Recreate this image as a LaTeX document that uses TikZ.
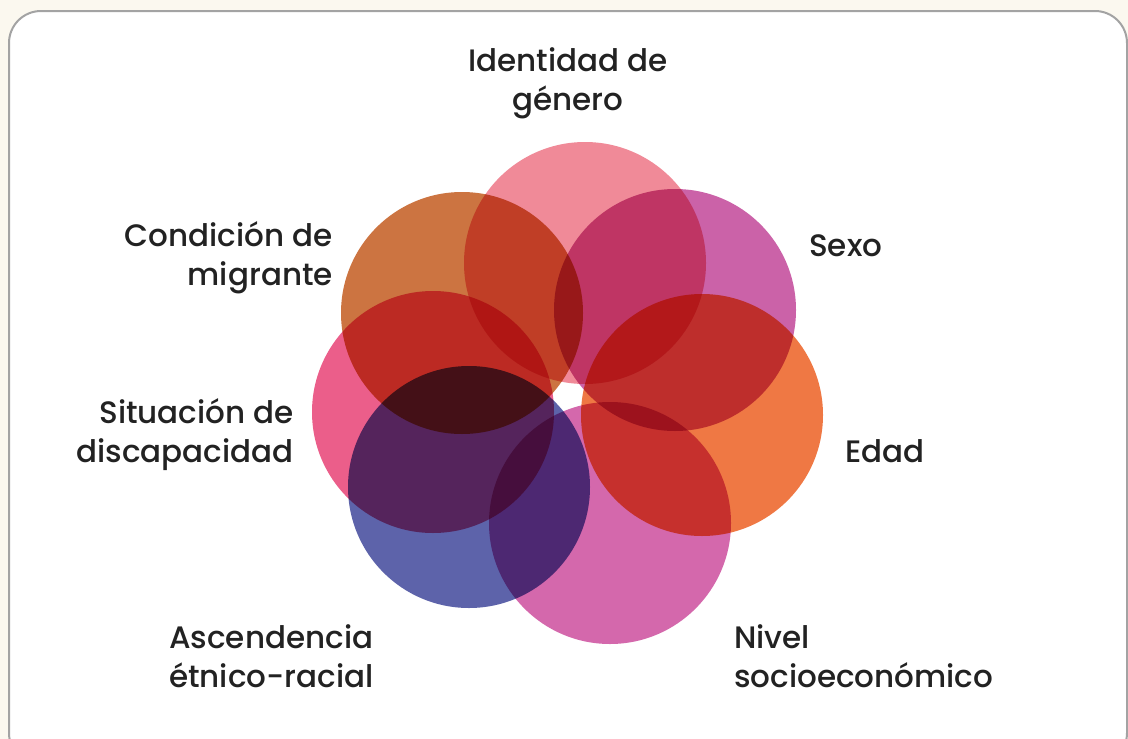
\documentclass[tikz,border=0pt]{standalone}
\usepackage{fontspec}
\setmainfont{Poppins}[UprightFont={* Medium}]
\definecolor{bgcol}{HTML}{FBF8EF}
\definecolor{framecol}{HTML}{A3A3A3}
\definecolor{inkcol}{HTML}{222222}
\definecolor{identcol}{HTML}{F08A98}
\definecolor{sexocol}{HTML}{CB62A8}
\definecolor{edadcol}{HTML}{EF7844}
\definecolor{nivelcol}{HTML}{D468AC}
\definecolor{asccol}{HTML}{5D63AA}
\definecolor{sitcol}{HTML}{EB5E8A}
\definecolor{condcol}{HTML}{CC7441}
\begin{document}
\begin{tikzpicture}[x=1pt,y=-1pt,
    petal/.style={fill=#1,blend mode=multiply},
    lbl/.style={font=\fontsize{31}{38.5}\selectfont,text=inkcol,inner sep=0pt}]
  \useasboundingbox (0,0) rectangle (1128,739);
  \fill[bgcol] (0,0) rectangle (1128,739);
  \draw[line width=2pt,draw=framecol,fill=white,rounded corners=32pt]
    (9,11) rectangle (1127,765);
  % the seven circles
  \fill[petal=identcol] (585,263) circle (121pt);
  \fill[petal=sexocol] (675,310) circle (121pt);
  \fill[petal=edadcol] (702,415) circle (121pt);
  \fill[petal=nivelcol] (610,523) circle (121pt);
  \fill[petal=asccol] (469,487) circle (121pt);
  \fill[petal=sitcol] (433,412) circle (121pt);
  \fill[petal=condcol] (462,313) circle (121pt);
  % labels (base = last line)
  \node[lbl,anchor=base,align=center] (ident) at (568,110) {Identidad de\\género};
  \node[lbl,anchor=base west] (sexo) at (809,256) {Sexo};
  \node[lbl,anchor=base east,align=right] (cond) at (333,285) {Condición de\\migrante};
  \node[lbl,anchor=base east,align=right] (sit) at (294,462) {Situación de\\discapacidad};
  \node[lbl,anchor=base west] (edad) at (845,462) {Edad};
  \node[lbl,anchor=base west,align=left] (asc) at (169,687) {Ascendencia\\étnico-racial};
  \node[lbl,anchor=base west,align=left] (nivel) at (734,687) {Nivel\\socioeconómico};
\end{tikzpicture}
\end{document}
